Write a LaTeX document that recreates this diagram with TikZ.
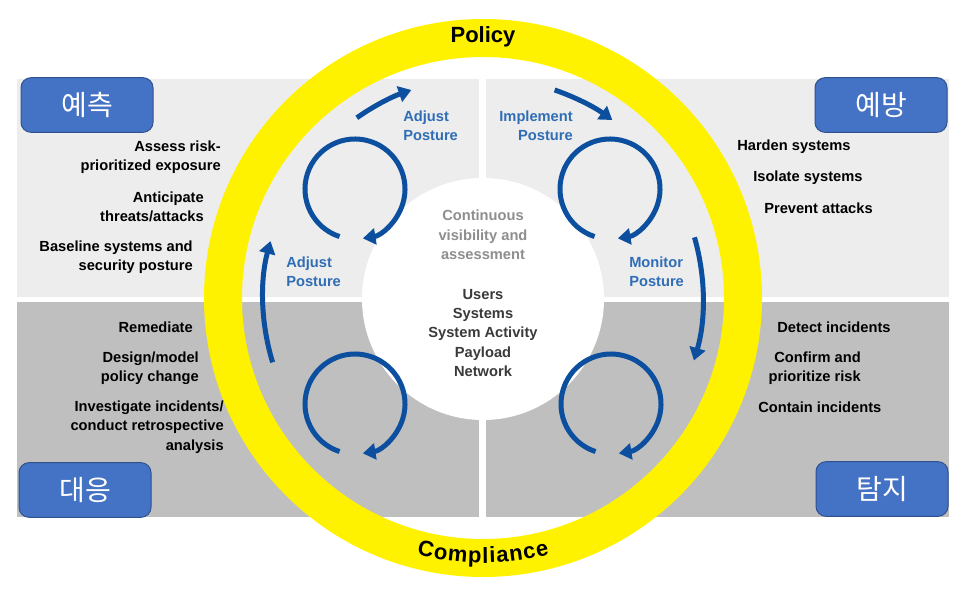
\documentclass[tikz,border=0pt]{standalone}
\usepackage{fontspec}
\setmainfont{Liberation Sans}
\newfontfamily\krfont{Noto Sans CJK KR}
\usetikzlibrary{arrows.meta,decorations.text}
\definecolor{ringYellow}{HTML}{FFF200}
\definecolor{arrowBlue}{HTML}{0D4F9F}
\definecolor{labelBlue}{HTML}{2F6DB5}
\definecolor{boxBlue}{HTML}{4472C4}
\definecolor{boxEdge}{HTML}{2F528F}
\definecolor{topGray}{HTML}{EDEDED}
\definecolor{lowGray}{HTML}{BFBFBF}
\definecolor{softGray}{HTML}{8E8E8E}
\definecolor{darkText}{HTML}{3A3A3A}
\newcommand{\bigbold}{\fontsize{16.5pt}{16.5pt}\selectfont\bfseries}

\begin{document}
\begin{tikzpicture}[x=0.75pt,y=-0.75pt,
  every node/.style={font=\fontsize{11pt}{14.6pt}\selectfont\bfseries,inner sep=0pt},
  bluelabel/.style={text=labelBlue},
  phase/.style={draw=boxEdge,fill=boxBlue,rounded corners=7.5pt,line width=0.75pt,
    minimum width=99pt,minimum height=41pt,text=white,
    font=\krfont\fontsize{21pt}{21pt}\selectfont},
  loopline/.style={draw=arrowBlue,line width=3.75pt,-{Triangle[width=12pt,length=9.5pt]}}]
  \useasboundingbox (0,0) rectangle (963,598);

  % quadrants
  \fill[topGray] (17,79) rectangle (479,297);
  \fill[topGray] (486,79) rectangle (949,297);
  \fill[lowGray] (17,302) rectangle (479,517);
  \fill[lowGray] (486,302) rectangle (949,517);

  \fill[white] (483,299) circle[radius=121];
  \draw[ringYellow,line width=28.5pt] (483,298) circle[radius=260];

  % cycles
  \foreach \cx/\cy in {355/189,610/189,355/404,611/404}
    \draw[loopline] ([shift={(-252:50)}]\cx,\cy) arc[start angle=-252,end angle=81,radius=50];
  \foreach \a/\b in {-125/-109,-71/-54,-16/16.5,-197/-165}
    \draw[loopline] ([shift={(\a:220)}]483,298) arc[start angle=\a,end angle=\b,radius=220];

  \node (policy) at (483,37) {\bigbold Policy};
  \path[decorate,decoration={text effects along path,text={Compliance},text align=center,
      text effects/.cd,text along path,characters={font=\bigbold,inner xsep=0.4pt}}]
    ([shift={(-250:265)}]483,298) arc[start angle=-250,end angle=-290,radius=265];

  \node[phase] (predict) at (87,105) {예측};
  \node[phase] (prevent) at (881,105) {예방};
  \node[phase] (respond) at (85,490) {대응};
  \node[phase] (detect) at (882,489) {탐지};

  \node[anchor=east,align=right] (assess) at (221,157) {Assess risk-\\prioritized exposure};
  \node[anchor=east,align=right] (anticipate) at (204,207) {Anticipate\\threats/attacks};
  \node[anchor=east,align=right] (baseline) at (193,257) {Baseline systems and\\security posture};
  \node[anchor=east] (remediate) at (193,327) {Remediate};
  \node[anchor=east,align=right] (design) at (199,368) {Design/model\\policy change};
  \node[anchor=east,align=right] (investigate) at (224,427) {Investigate incidents/\\conduct retrospective\\analysis};

  \node[anchor=west] (harden) at (737,147) {Harden systems};
  \node[anchor=west] (isolate) at (753,178) {Isolate systems};
  \node[anchor=west] (stop) at (764,208) {Prevent attacks};
  \node[anchor=west] (detectinc) at (777,327) {Detect incidents};
  \node[anchor=east,align=right] (confirm) at (861,368) {Confirm and\\prioritize risk};
  \node[anchor=west] (contain) at (758,407) {Contain incidents};

  \node[bluelabel,anchor=west,align=left] (adjusttop) at (403,126) {Adjust\\Posture};
  \node[bluelabel,anchor=east,align=right] (implement) at (573,126) {Implement\\Posture};
  \node[bluelabel,anchor=west,align=left] (monitor) at (629,272) {Monitor\\Posture};
  \node[bluelabel,anchor=west,align=left] (adjustleft) at (286,272) {Adjust\\Posture};

  \node[text=softGray,align=center] (visibility) at (483,235) {Continuous\\visibility and\\assessment};
  \node[text=darkText,align=center] (assets) at (483,333) {Users\\Systems\\System Activity\\Payload\\Network};
\end{tikzpicture}
\end{document}
